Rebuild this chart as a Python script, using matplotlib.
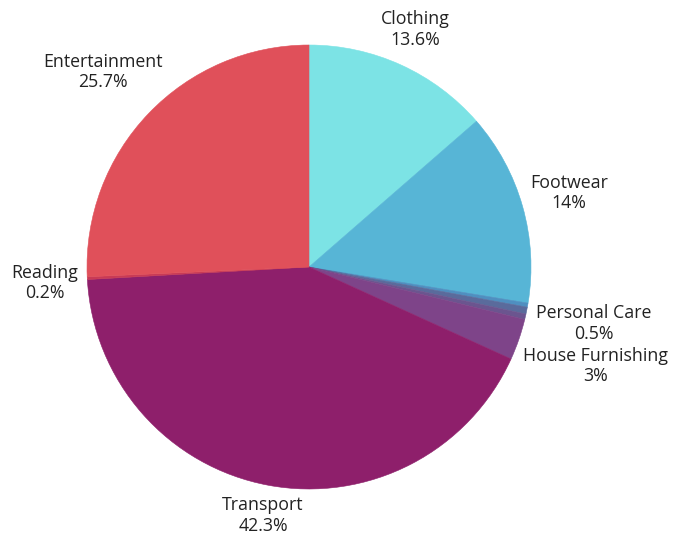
import numpy as np
import matplotlib.pyplot as plt

# Spending shares (%), clockwise from 12 o'clock
categories = ["Clothing", "Footwear", "", "Personal Care", "", "House Furnishing",
              "Transport", "Reading", "Entertainment"]
shares = [13.6, 14.0, 0.3, 0.5, 0.4, 3.0, 42.3, 0.2, 25.7]
share_text = ["13.6%", "14%", "", "0.5%", "", "3%", "42.3%", "0.2%", "25.7%"]
colors = ["#7ce3e5", "#57b5d6", "#4f8fc0", "#5a6b9c", "#6b558f", "#7e4489",
          "#8e1f6b", "#c93a55", "#e0505a"]

# label centres as offsets from the pie centre, in radius units
label_pos = {
    "Clothing": (0.48, 1.07),
    "Footwear": (1.17, 0.333),
    "Personal Care": (1.284, -0.255),
    "House Furnishing": (1.29, -0.446),
    "Transport": (-0.207, -1.12),
    "Reading": (-1.19, -0.072),
    "Entertainment": (-0.928, 0.878),
}

W, H = 674, 537
R = 222.0
cx, cy = 309.0, 267.0

fig = plt.figure(figsize=(W / 100, H / 100), dpi=100)
ax = fig.add_axes([0, 0, 1, 1])

wedges, _ = ax.pie(shares, colors=colors, startangle=90, counterclock=False,
                   radius=1.0, wedgeprops=dict(linewidth=0.4))
for w, c in zip(wedges, colors):
    w.set_edgecolor(c)

for name, txt in zip(categories, share_text):
    if not name:
        continue
    x, y = label_pos[name]
    ax.text(x, y, f"{name}\n{txt}", ha="center", va="center",
            fontsize=12.8, family="Open Sans", color="#222222", linespacing=1.2)

ax.set_xlim(-cx / R, (W - cx) / R)
ax.set_ylim(-(H - cy) / R, cy / R)
ax.set_aspect("auto")
ax.axis("off")

fig.savefig("out.png", dpi=100, facecolor="white")
